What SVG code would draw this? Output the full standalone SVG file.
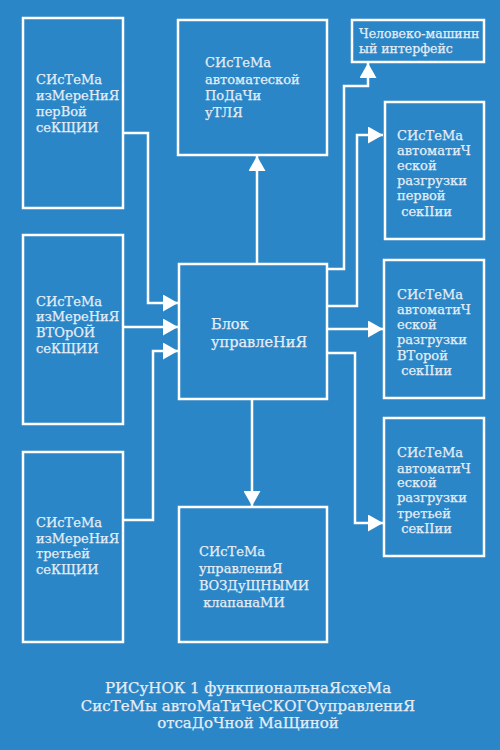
<svg xmlns="http://www.w3.org/2000/svg" width="500" height="750" viewBox="0 0 500 750">
<style>
.box{fill:none;stroke:#ffffff;stroke-width:2.5}
.t{font-family:"DejaVu Serif","Liberation Serif",serif;font-size:13px;fill:#e6edf7;stroke:#e6edf7;stroke-width:0.25}
.c{font-size:14.5px}
.h{font-size:12.5px}
.cap{font-size:15px;text-anchor:middle}
.ln{fill:none;stroke:#ffffff;stroke-width:2.5;marker-end:url(#ah)}
</style>
<defs>
<marker id="ah" markerUnits="userSpaceOnUse" markerWidth="17" markerHeight="17" refX="15" refY="8.5" orient="auto">
<path d="M0,0 L15,8.5 L0,17 Z" fill="#ffffff"/>
</marker>
</defs>
<rect width="500" height="750" fill="#2a86c6"/>
<g id="connectors">
<path class="ln" d="M123,133 H148 V303 H178"/>
<path class="ln" d="M123,327 H178"/>
<path class="ln" d="M123,520 H153 V351 H178"/>
<path class="ln" d="M257,264 V156"/>
<path class="ln" d="M252,399 V506"/>
<path class="ln" d="M327,269 H344 V86 H368 V63"/>
<path class="ln" d="M327,306 H357 V135 H383"/>
<path class="ln" d="M327,329 H383"/>
<path class="ln" d="M327,353 H355 V523 H383"/>
</g>
<g id="meas1">
<rect class="box" x="23" y="18" width="100" height="190"/>
<text class="t"><tspan x="36" y="84">СИсТеМа</tspan><tspan x="36" y="100">изМереНиЯ</tspan><tspan x="36" y="116">перВой</tspan><tspan x="36" y="132">сеКЩИИ</tspan></text>
</g>
<g id="meas2">
<rect class="box" x="23" y="235" width="100" height="189"/>
<text class="t"><tspan x="36" y="306">СИсТеМа</tspan><tspan x="36" y="321">изМереНиЯ</tspan><tspan x="36" y="337">ВТОрОЙ</tspan><tspan x="36" y="353">сеКЩИИ</tspan></text>
</g>
<g id="meas3">
<rect class="box" x="23" y="452" width="100" height="190"/>
<text class="t"><tspan x="36" y="527">СИсТеМа</tspan><tspan x="36" y="543">изМереНиЯ</tspan><tspan x="36" y="558">третьей</tspan><tspan x="36" y="574">сеКЩИИ</tspan></text>
</g>
<g id="feed">
<rect class="box" x="178" y="20" width="149" height="135"/>
<text class="t"><tspan x="205" y="67">СИсТеМа</tspan><tspan x="205" y="84">автоматеской</tspan><tspan x="205" y="100">ПоДаЧи</tspan><tspan x="205" y="117">уТЛЯ</tspan></text>
</g>
<g id="control">
<rect class="box" x="179" y="264" width="148" height="135"/>
<text class="t c"><tspan x="211" y="329">Блок</tspan><tspan x="211" y="347">управлеНиЯ</tspan></text>
</g>
<g id="valves">
<rect class="box" x="179" y="507" width="148" height="135"/>
<text class="t"><tspan x="199" y="556">СИсТеМа</tspan><tspan x="199" y="573">управлениЯ</tspan><tspan x="199" y="590">ВОЗДуЩНЫМИ</tspan><tspan x="199" y="607"> клапанаМИ</tspan></text>
</g>
<g id="hmi">
<rect class="box" x="352" y="20" width="132" height="42"/>
<text class="t h"><tspan x="359" y="38">Человеко-машинн</tspan><tspan x="359" y="53">ый интерфейс</tspan></text>
</g>
<g id="unload1">
<rect class="box" x="385" y="102" width="99" height="137"/>
<text class="t"><tspan x="397" y="140">СИсТеМа</tspan><tspan x="397" y="155">автоматиЧ</tspan><tspan x="397" y="170">еской</tspan><tspan x="397" y="185">разгрузки</tspan><tspan x="397" y="200">первой</tspan><tspan x="397" y="216"> секIIии</tspan></text>
</g>
<g id="unload2">
<rect class="box" x="384" y="260" width="100" height="138"/>
<text class="t"><tspan x="397" y="299">СИсТеМа</tspan><tspan x="397" y="314">автоматиЧ</tspan><tspan x="397" y="329">еской</tspan><tspan x="397" y="344">разгрузки</tspan><tspan x="397" y="360">ВТорой</tspan><tspan x="397" y="375"> секIIии</tspan></text>
</g>
<g id="unload3">
<rect class="box" x="384" y="418" width="100" height="138"/>
<text class="t"><tspan x="397" y="457">СИсТеМа</tspan><tspan x="397" y="473">автоматиЧ</tspan><tspan x="397" y="487">еской</tspan><tspan x="397" y="502">разгрузки</tspan><tspan x="397" y="518">третьей</tspan><tspan x="397" y="533"> секIIии</tspan></text>
</g>
<g id="caption">
<text class="t cap"><tspan x="248" y="693">РИСуНОК 1 функпиональнаЯсхеМа</tspan><tspan x="248" y="711">СисТеМы автоМаТиЧеСКОГОуправлениЯ</tspan><tspan x="248" y="728">отсаДоЧной МаЩиной</tspan></text>
</g>
</svg>
